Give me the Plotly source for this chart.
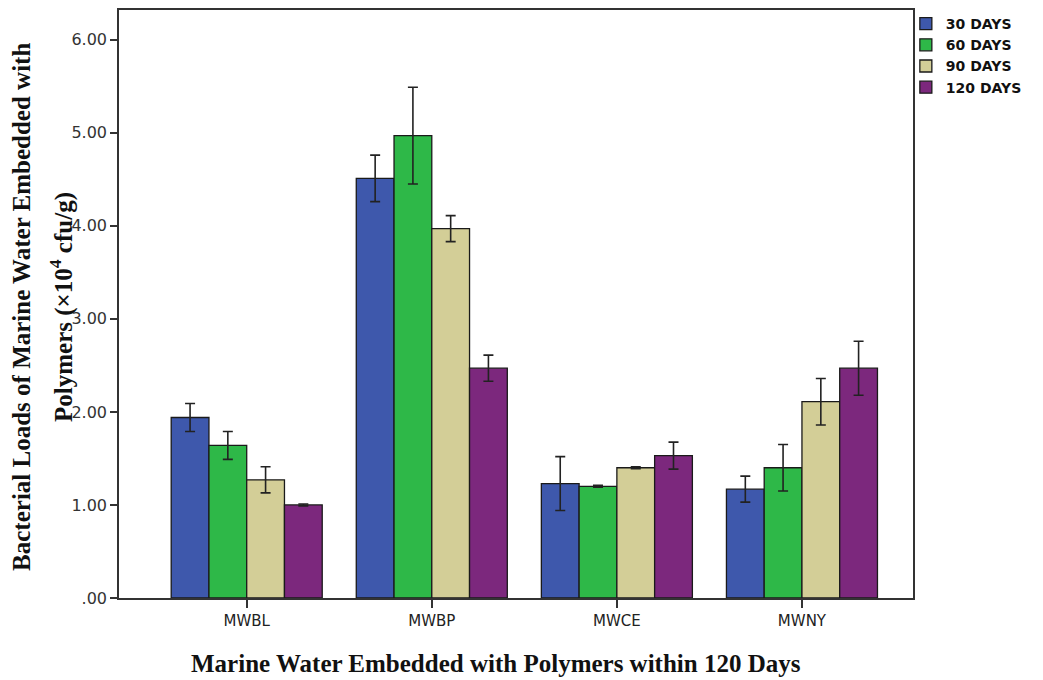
import plotly.graph_objects as go

categories = ["MWBL", "MWBP", "MWCE", "MWNY"]
series_names = ["30 DAYS", "60 DAYS", "90 DAYS", "120 DAYS"]
values = {
    "30 DAYS": [1.94, 4.51, 1.23, 1.17],
    "60 DAYS": [1.64, 4.97, 1.20, 1.40],
    "90 DAYS": [1.27, 3.97, 1.40, 2.11],
    "120 DAYS": [1.00, 2.47, 1.53, 2.47],
}
errors = {
    "30 DAYS": [0.15, 0.25, 0.29, 0.14],
    "60 DAYS": [0.15, 0.52, 0.01, 0.25],
    "90 DAYS": [0.14, 0.14, 0.01, 0.25],
    "120 DAYS": [0.01, 0.14, 0.145, 0.29],
}
colors = ["#3E58AC", "#2EB848", "#D3CE97", "#7C287D"]
ytick_vals = [0, 1, 2, 3, 4, 5, 6]
ytick_text = [".00", "1.00", "2.00", "3.00", "4.00", "5.00", "6.00"]

fig = go.Figure()
for name, col in zip(series_names, colors):
    fig.add_trace(go.Bar(
        x=categories, y=values[name], name=name,
        marker=dict(color=col, line=dict(color="#1a1a1a", width=1.3)),
        error_y=dict(type="data", array=errors[name], visible=True,
                     color="#222222", thickness=1.6, width=5),
    ))

fig.update_layout(
    width=1035, height=672,
    paper_bgcolor="white", plot_bgcolor="white",
    barmode="group", bargap=0.184, bargroupgap=0,
    margin=dict(l=111, r=130, t=2, b=82, autoexpand=False),
    showlegend=True,
    legend=dict(x=0.991, y=1.0034, xanchor="left", yanchor="top",
                font=dict(family="DejaVu Sans", size=14, color="#111111", weight="bold"),
                tracegroupgap=0, itemwidth=30, bgcolor="rgba(0,0,0,0)"),
    font=dict(family="DejaVu Sans", color="#333333"),
)
fig.update_xaxes(
    type="category", range=[-0.69, 3.6],
    showline=True, linecolor="#333333", linewidth=1.5, mirror=True,
    ticks="outside", ticklen=8, tickcolor="#333333", tickwidth=1.5,
    tickfont=dict(size=15, color="#222222", family="DejaVu Sans"),
    showgrid=False,
)
fig.update_yaxes(
    range=[0, 6.32],
    tickvals=ytick_vals, ticktext=ytick_text,
    showline=True, linecolor="#333333", linewidth=1.5, mirror=True,
    ticks="outside", ticklen=7, tickcolor="#333333", tickwidth=1.5,
    tickfont=dict(size=16, color="#333333", family="DejaVu Sans"),
    showgrid=False, zeroline=False,
)

serif = dict(family="Liberation Serif, Times New Roman", size=25, color="#111111")
fig.add_annotation(text="<b>Bacterial Loads of Marine Water Embedded with</b>",
                   xref="paper", yref="paper", x=-0.1222, y=0.495,
                   xanchor="center", yanchor="middle", textangle=-90,
                   showarrow=False, font=serif)
fig.add_annotation(text="<b>Polymers (×10<sup>4</sup> cfu/g)</b>",
                   xref="paper", yref="paper", x=-0.0718, y=0.495,
                   xanchor="center", yanchor="middle", textangle=-90,
                   showarrow=False, font=serif)
fig.add_annotation(text="<b>Marine Water Embedded with Polymers within 120 Days</b>",
                   xref="paper", yref="paper", x=0.475, y=-0.112,
                   xanchor="center", yanchor="middle",
                   showarrow=False, font=serif)

fig.write_html("out.html")
